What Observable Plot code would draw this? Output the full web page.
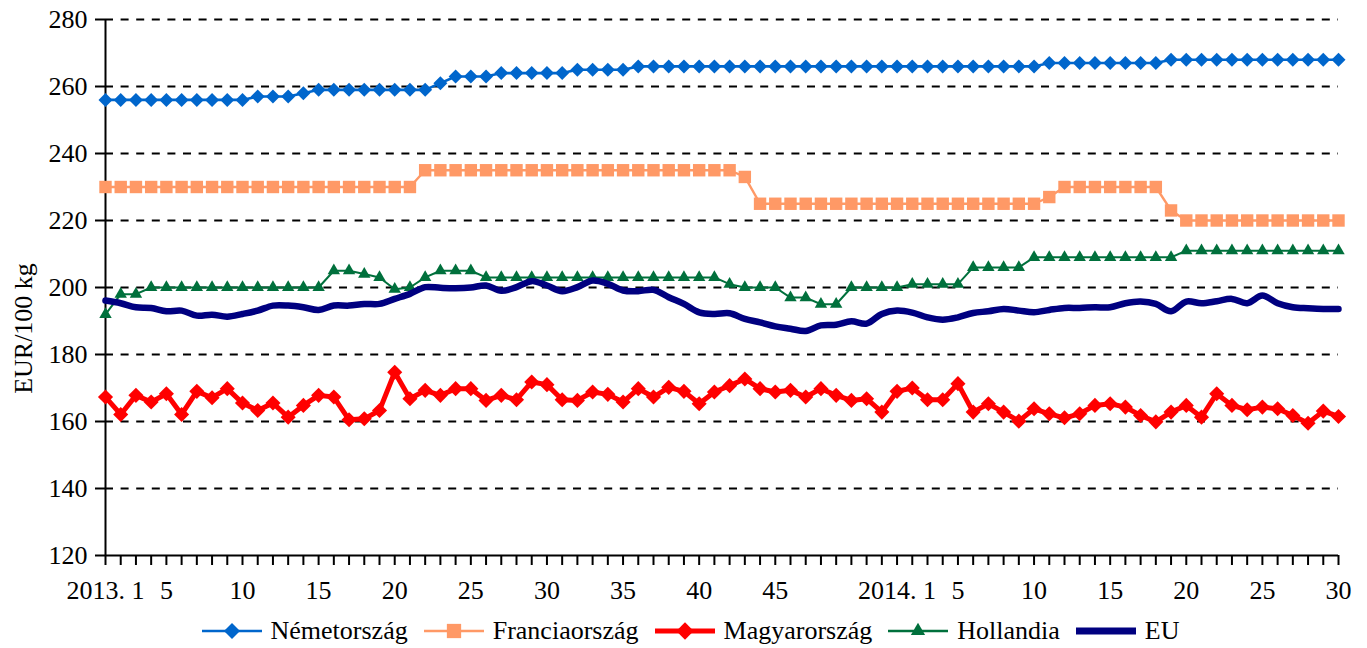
<!DOCTYPE html>
<html><head><meta charset="utf-8">
<script src="https://cdn.jsdelivr.net/npm/d3@7"></script>
<script src="https://cdn.jsdelivr.net/npm/@observablehq/plot@0.6"></script>
<style>
body{margin:0;background:#fff;font-family:"Liberation Serif","Times New Roman",serif;}
#legend{display:flex;justify-content:center;align-items:center;height:38px;font-size:26px;color:#000;padding-left:14px}
.item{display:flex;align-items:center;margin:0 8px}
.item svg{margin-right:9px;overflow:visible}
#chart svg text{font-family:"Liberation Serif","Times New Roman",serif;}
</style></head><body>
<div id="chart"></div><div id="legend"></div>
<script>
// ---- data (EUR/100 kg, weekly, 2013 w1 – 2014 w30) ----
const weeks2013 = d3.range(1, 53);
const weeks2014 = d3.range(1, 31);
const labeledWeeks2013 = [1, 5, 10, 15, 20, 25, 30, 35, 40, 45];
const labeledWeeks2014 = [1, 5, 10, 15, 20, 25, 30];
const yTicks = [120, 140, 160, 180, 200, 220, 240, 260, 280];
const yLabel = "EUR/100 kg";

const germany = [
  256,256,256,256,256,256,256,256,256,256,
  257,257,257,258,259,259,259,259,259,259,
  259,259,261,263,263,263,264,264,264,264,
  264,265,265,265,265,266,266,266,266,266,
  266,266,266,266,266,266,266,266,266,266,
  266,266,266,266,266,266,266,266,266,266,
  266,266,267,267,267,267,267,267,267,267,
  268,268,268,268,268,268,268,268,268,268,
  268,268];
const france = [
  230,230,230,230,230,230,230,230,230,230,
  230,230,230,230,230,230,230,230,230,230,
  230,235,235,235,235,235,235,235,235,235,
  235,235,235,235,235,235,235,235,235,235,
  235,235,233,225,225,225,225,225,225,225,
  225,225,225,225,225,225,225,225,225,225,
  225,225,227,230,230,230,230,230,230,230,
  223,220,220,220,220,220,220,220,220,220,
  220,220];
const hungary = [
  167.3,162.1,167.8,165.8,168.3,162.1,169.0,167.1,169.8,165.5,
  163.3,165.5,161.3,164.8,167.8,167.3,160.5,160.8,163.3,174.7,
  166.8,169.3,167.8,169.8,169.8,166.3,167.8,166.5,171.8,171.0,
  166.5,166.3,168.8,168.1,165.8,169.8,167.3,170.2,169.0,165.3,
  168.8,170.7,172.7,169.8,168.8,169.3,167.3,169.8,167.8,166.3,
  166.8,162.8,169.0,170.0,166.5,166.5,171.3,162.8,165.3,162.8,
  160.1,163.8,162.3,161.1,162.3,164.8,165.3,164.3,161.8,159.9,
  162.8,164.8,161.3,168.3,164.8,163.5,164.3,163.8,161.8,159.5,
  163.1,161.5];
const netherlands = [
  192,198,198,200,200,200,200,200,200,200,
  200,200,200,200,200,205,205,204,203,199.5,
  200,203,205,205,205,203,203,203,203,203,
  203,203,203,203,203,203,203,203,203,203,
  203,201,200,200,200,197,197,195,195,200,
  200,200,200,201,201,201,201,206,206,206,
  206,209,209,209,209,209,209,209,209,209,
  209,211,211,211,211,211,211,211,211,211,
  211,211];
const eu = [
  196.1,195.3,194.1,193.9,192.9,193.1,191.6,191.9,191.3,192.1,
  193.1,194.6,194.6,194.1,193.3,194.6,194.6,195.1,195.1,196.6,
  198.1,200.1,199.9,199.8,200.0,200.6,199.0,200.1,201.9,200.6,
  198.9,200.1,202.1,201.1,199.1,198.9,199.3,197.1,195.1,192.6,
  192.1,192.3,190.6,189.6,188.4,187.7,187.0,188.7,188.9,189.9,
  189.2,192.1,193.1,192.5,191.1,190.4,191.1,192.4,192.9,193.6,
  193.1,192.6,193.3,193.9,193.9,194.1,194.1,195.3,195.8,195.1,
  192.9,195.8,195.3,195.9,196.6,195.3,197.6,195.3,194.1,193.8,
  193.6,193.6];

// ---- series styles ----
const series = [
  {name: "Németország",   values: germany,     color: "#0066CC", width: 2.6, symbol: "diamond2", r: 6.3},
  {name: "Franciaország", values: france,      color: "#FF9966", width: 2.4, symbol: "square",   r: 7.0},
  {name: "Magyarország",  values: hungary,     color: "#FF0000", width: 5,   symbol: "diamond2", r: 6.8},
  {name: "Hollandia",     values: netherlands, color: "#00703C", width: 2,   symbol: "triangle", r: 4.6},
  {name: "EU",            values: eu,          color: "#000080", width: 6.5, symbol: null,       curve: "catmull-rom"}
];

const periods = [
  ...weeks2013.map(w => ({year: 2013, week: w})),
  ...weeks2014.map(w => ({year: 2014, week: w}))
];
const idx = d3.range(periods.length);
const labeledIdx = idx.filter(i => {
  const p = periods[i];
  return (p.year === 2013 ? labeledWeeks2013 : labeledWeeks2014).includes(p.week);
});
const fmtWeek = i => {
  const p = periods[i];
  return p.week === 1 ? `${p.year}. 1` : String(p.week);
};
const FONT = "'Liberation Serif','Times New Roman',serif";

const marks = [
  Plot.ruleY(yTicks.slice(1), {stroke: "#000", strokeWidth: 2, strokeDasharray: "8,7.6"}),
  Plot.axisY({ticks: yTicks, tickSize: 10, tickPadding: 8, strokeWidth: 2, tickFormat: d => String(d), label: null, fontSize: 26, fontFamily: FONT, fill: "#000"}),
  Plot.axisX({ticks: idx, tickSize: 10, strokeWidth: 2, tickFormat: () => "", label: null}),
  Plot.axisX({ticks: labeledIdx, tickSize: 0, tickPadding: 25, tickFormat: fmtWeek, label: null, fontSize: 26, fontFamily: FONT, fill: "#000"}),
  Plot.ruleX([0], {stroke: "#000", strokeWidth: 2}),
  Plot.ruleY([120], {stroke: "#000", strokeWidth: 2})
];
for (const s of series) {
  marks.push(Plot.line(s.values, {x: (d, i) => i, y: d => d, stroke: s.color, strokeWidth: s.width, curve: s.curve || "linear"}));
  if (s.symbol) marks.push(Plot.dot(s.values, {x: (d, i) => i, y: d => d, symbol: () => s.symbol, fill: s.color, r: s.r}));
}
marks.push(Plot.text([yLabel], {frameAnchor: "left", textAnchor: "middle", lineAnchor: "middle", dx: -82, dy: 41, rotate: -90, fontSize: 26, fontFamily: FONT, fill: "#000"}));

const chart = Plot.plot({
  width: 1367, height: 612,
  marginTop: 19, marginBottom: 57, marginLeft: 105, marginRight: 29,
  style: {fontFamily: FONT, fontSize: "26px", color: "#000", background: "#fff", overflow: "visible"},
  x: {type: "linear", domain: [0, periods.length - 1]},
  y: {domain: [120, 280]},
  symbol: {type: "identity"},
  marks
});
document.getElementById("chart").append(chart);

// ---- legend ----
const symMap = {diamond2: d3.symbolDiamond2, square: d3.symbolSquare, triangle: d3.symbolTriangle};
const legend = d3.select("#legend");
for (const s of series) {
  const item = legend.append("div").attr("class", "item");
  const sw = item.append("svg").attr("width", 60).attr("height", 24);
  sw.append("line").attr("x1", 0).attr("x2", 60).attr("y1", 12).attr("y2", 12)
    .attr("stroke", s.color).attr("stroke-width", s.symbol ? Math.max(s.width, 2.5) : 7);
  if (s.symbol) {
    const rr = s.r * 1.15;
    sw.append("path").attr("transform", "translate(30,12)")
      .attr("d", d3.symbol(symMap[s.symbol], rr * rr * Math.PI)()).attr("fill", s.color);
  }
  item.append("span").text(s.name);
}
</script></body></html>
